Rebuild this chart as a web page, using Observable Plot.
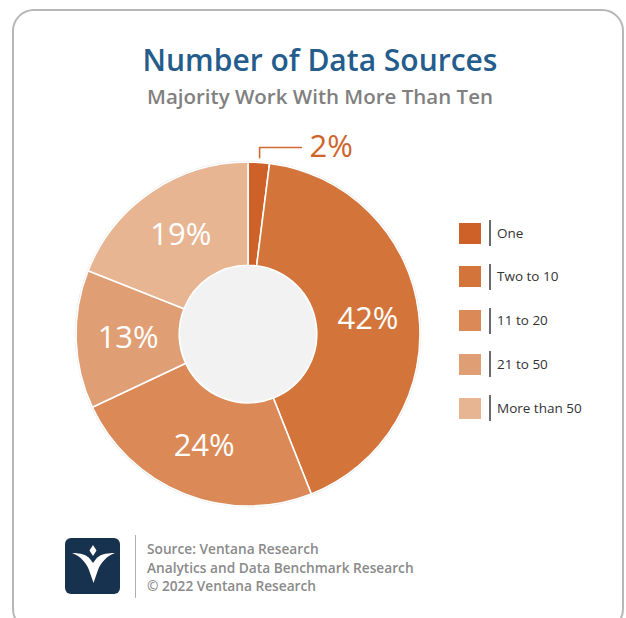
<!DOCTYPE html>
<html><head><meta charset="utf-8">
<script src="https://cdn.jsdelivr.net/npm/d3@7"></script>
<script src="https://cdn.jsdelivr.net/npm/@observablehq/plot@0.6"></script>
<style>
body{margin:0;background:#fff;font-family:"Open Sans",sans-serif;}
#wrap{position:relative;width:626px;height:618px;overflow:hidden;background:#fff;}
.card{position:absolute;left:12px;top:9px;width:612px;height:622px;border:2px solid #b7b7b7;border-radius:22px;box-sizing:border-box;}
.title{position:absolute;left:20px;width:600px;text-align:center;top:45.4px;font-size:30px;line-height:30px;font-weight:600;color:#245c8c;white-space:nowrap;}
.subtitle{position:absolute;left:20px;width:600px;text-align:center;top:85.8px;font-size:20.5px;line-height:20.5px;font-weight:600;color:#808080;white-space:nowrap;}
#chart{position:absolute;left:0;top:120px;}
.sw{position:absolute;left:459px;width:22px;height:21px;}
.bar{position:absolute;left:489px;width:1.6px;height:26px;background:#6b6b6b;}
.lt{position:absolute;left:497px;font-size:13.5px;line-height:20px;color:#333;white-space:nowrap;}
.logo{position:absolute;left:65px;top:538px;width:55px;height:56px;}
.sep{position:absolute;left:134.5px;top:535px;width:1.5px;height:63px;background:#b0b0b0;}
.foot{position:absolute;left:147px;top:540.4px;font-size:13.7px;line-height:18.5px;font-weight:600;color:#8a8a8a;white-space:nowrap;}
</style>
</head><body>
<div id="wrap">
  <div class="card"></div>
  <div class="title">Number of Data Sources</div>
  <div class="subtitle">Majority Work With More Than Ten</div>
  <div id="chart"></div>
  <div id="legend"></div>
  <svg class="logo" viewBox="0 0 55 56">
    <rect x="0" y="0" width="55" height="56" rx="6" fill="#17324f"/>
    <path d="M7,15 C16,15 22,17 25,21 L28,25 L31,21 C34,17 40,15 50,15 C42,18 36,24 33,32 L28.5,45 L24,32 C21,24 15,18 7,15 Z" fill="#fff"/>
    <path d="M28,7 L31.5,12.5 L28,18 L24.5,12.5 Z" fill="#fff"/>
  </svg>
  <div class="sep"></div>
  <div class="foot">Source: Ventana Research<br>Analytics and Data Benchmark Research<br>© 2022 Ventana Research</div>
</div>
<script>
// ---- data ----
const categories = ["One", "Two to 10", "11 to 20", "21 to 50", "More than 50"];
const values = [2, 42, 24, 13, 19];
const colors = ["#cd6127", "#d3743a", "#db8a57", "#e09e74", "#e8b592"];

const data = categories.map((c, i) => ({category: c, value: values[i], color: colors[i]}));
const INNER = 0.4;
const pieData = d3.pie().sort(null).value(d => d.value)(data);
const labelR = (1 + INNER) / 2;
const labels = pieData.map(p => {
  const a = (p.startAngle + p.endAngle) / 2;
  return {category: p.data.category, value: p.data.value, a, x: labelR * Math.sin(a), y: labelR * Math.cos(a)};
});
const inside = labels.filter(d => d.value >= 5);
const outside = labels.filter(d => d.value < 5);

// leader line for small slice
const leaderY = 1.087;
const leaders = [];
outside.forEach(d => {
  leaders.push({id: d.category, x: 1.03 * Math.sin(d.a), y: 1.03 * Math.cos(d.a)});
  leaders.push({id: d.category, x: 1.03 * Math.sin(d.a), y: leaderY});
  leaders.push({id: d.category, x: 0.308, y: leaderY});
});

function donutMark(arcs, inner) {
  return (index, scales) => {
    const cx = scales.x(0), cy = scales.y(0), r = scales.x(1) - scales.x(0);
    const g = d3.create("svg:g").attr("transform", `translate(${cx},${cy})`);
    g.append("circle").attr("r", r + 0.6).attr("fill", "none").attr("stroke", "#e4e4e4").attr("stroke-width", 1.2);
    const arc = d3.arc().innerRadius(r * inner).outerRadius(r);
    g.selectAll("path").data(arcs).join("path")
      .attr("d", arc).attr("fill", d => d.data.color)
      .attr("stroke", "#fff").attr("stroke-width", 1.6).attr("stroke-linejoin", "round");
    g.append("circle").attr("r", r * inner - 0.8).attr("fill", "#f2f2f2");
    return g.node();
  };
}

const chart = Plot.plot({
  width: 626, height: 400,
  marginLeft: 76, marginRight: 206, marginTop: 42, marginBottom: 14,
  x: {domain: [-1, 1], axis: null},
  y: {domain: [-1, 1], axis: null},
  style: {background: "transparent", overflow: "visible"},
  marks: [
    donutMark(pieData, INNER),
    Plot.text(inside, {x: "x", y: "y", text: d => d.value + "%", fill: "#fff",
      fontFamily: "Open Sans", fontSize: 31, fontWeight: 400}),
    Plot.line(leaders, {x: "x", y: "y", z: "id", stroke: "#d06a32", strokeWidth: 1.6, curve: "linear"}),
    Plot.text(outside, {x: 0.355, y: leaderY, text: d => d.value + "%", fill: "#d0652c",
      textAnchor: "start", fontFamily: "Open Sans", fontSize: 31, fontWeight: 400})
  ]
});
document.getElementById("chart").appendChild(chart);

// ---- legend ----
const legend = document.getElementById("legend");
categories.forEach((c, i) => {
  const cy = 233 + 43.75 * i;
  const sw = document.createElement("div");
  sw.className = "sw"; sw.style.top = (cy - 10.5) + "px"; sw.style.background = colors[i];
  const bar = document.createElement("div");
  bar.className = "bar"; bar.style.top = (cy - 13) + "px";
  const t = document.createElement("div");
  t.className = "lt"; t.style.top = (cy - 10.4) + "px"; t.textContent = c;
  legend.append(sw, bar, t);
});
</script>
</body></html>
